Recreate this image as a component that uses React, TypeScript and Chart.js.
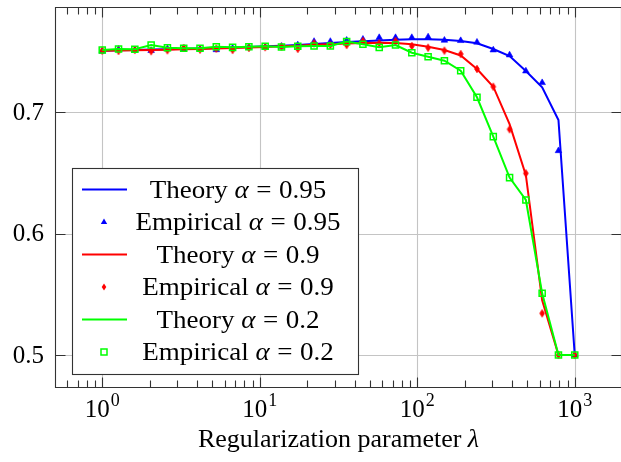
import { useEffect, useRef } from "react";
import { Chart, registerables } from "chart.js";

Chart.register(...registerables);

// ---- data ----
const lambdas = [
  1, 1.269, 1.6103, 2.0434, 2.5929, 3.2903, 4.1753, 5.2983, 6.7234, 8.5317,
  10.826, 13.738, 17.433, 22.122, 28.072, 35.622, 45.204, 57.362, 72.79, 92.367,
  117.21, 148.74, 188.74, 239.5, 303.92, 385.66, 489.39, 621.02, 788.05, 1000,
];

const theory095 = [
  0.7505, 0.7508, 0.7511, 0.7514, 0.7517, 0.752, 0.7523, 0.7527, 0.7531, 0.7535,
  0.754, 0.7546, 0.7552, 0.756, 0.7567, 0.7575, 0.7582, 0.7589, 0.7594, 0.7598,
  0.7598, 0.7594, 0.7585, 0.7565, 0.7518, 0.746, 0.7337, 0.7203, 0.6934, 0.5,
];
const empirical095 = [
  0.75, 0.7515, 0.751, 0.7505, 0.752, 0.7518, 0.752, 0.7512, 0.7525, 0.7535,
  0.7535, 0.754, 0.7552, 0.758, 0.758, 0.759, 0.7598, 0.7612, 0.7612, 0.7612,
  0.7617, 0.759, 0.7587, 0.7574, 0.751, 0.7469, 0.7337, 0.7241, 0.6681, 0.5,
];
const theory09 = [
  0.7505, 0.7507, 0.7509, 0.7511, 0.7513, 0.7516, 0.7519, 0.7522, 0.7526, 0.753,
  0.7535, 0.754, 0.7546, 0.7553, 0.7558, 0.7563, 0.7567, 0.7569, 0.7568, 0.7558,
  0.7537, 0.751, 0.7465, 0.7354, 0.7208, 0.69, 0.648, 0.545, 0.5, 0.5,
];
const empirical09 = [
  0.7505, 0.7502, 0.751, 0.75, 0.7508, 0.7527, 0.7513, 0.7521, 0.751, 0.7527,
  0.7533, 0.7537, 0.7519, 0.7565, 0.7551, 0.7551, 0.7584, 0.7565, 0.7584, 0.7543,
  0.7529, 0.7505, 0.7477, 0.7354, 0.7208, 0.6858, 0.6495, 0.5343, 0.5, 0.5,
];
const theory02 = [
  0.751, 0.7519, 0.7516, 0.7551, 0.7529, 0.7524, 0.7524, 0.7537, 0.7532, 0.7537,
  0.7541, 0.7535, 0.7541, 0.7543, 0.7543, 0.7579, 0.7557, 0.7532, 0.7551, 0.7488,
  0.7455, 0.7422, 0.734, 0.7121, 0.6797, 0.646, 0.6276, 0.5508, 0.5, 0.5,
];
const empirical02 = [
  0.751, 0.7519, 0.7516, 0.7551, 0.7529, 0.7524, 0.7524, 0.7537, 0.7532, 0.7537,
  0.7541, 0.7535, 0.7541, 0.7543, 0.7543, 0.7579, 0.7557, 0.7532, 0.7551, 0.7488,
  0.7455, 0.7422, 0.734, 0.7121, 0.6797, 0.646, 0.6276, 0.5508, 0.5, 0.5,
];

const xTickExponents = [0, 1, 2, 3];
const yTicks = [0.5, 0.6, 0.7];
const yTickLabels = ["0.5", "0.6", "0.7"];
const xTitle = "Regularization parameter ";
const xTitleSymbol = "λ";
const legendKinds = ["Theory", "Empirical", "Theory", "Empirical", "Theory", "Empirical"];
const legendAlphas = ["0.95", "0.95", "0.9", "0.9", "0.2", "0.2"];

const X_MIN = 0.50119;
const X_MAX = 1995.3;
const Y_MIN = 0.4737;
const Y_MAX = 0.7864;

const BLUE = "#0000ff";
const RED = "#ff0000";
const GREEN = "#00ff00";
const SERIF = '"Liberation Serif", "Times New Roman", serif';

const pts = (ys: number[]) => ys.map((y, i) => ({ x: lambdas[i], y }));

// parts: [text, italic, extra gap before (em)]
function drawMixed(
  ctx: CanvasRenderingContext2D,
  parts: [string, boolean, number][],
  cx: number,
  baseline: number,
  size: number,
  sx = 1
) {
  const fonts = parts.map(([, it]) => `${it ? "italic " : ""}${size}px ${SERIF}`);
  const widths = parts.map(([t, , g], i) => {
    ctx.font = fonts[i];
    return ctx.measureText(t).width + g * size;
  });
  const total = widths.reduce((a, b) => a + b, 0);
  ctx.save();
  ctx.translate(cx, baseline);
  ctx.scale(sx, 1);
  let x = -total / 2;
  ctx.textAlign = "left";
  ctx.textBaseline = "alphabetic";
  parts.forEach(([t, , g], i) => {
    ctx.font = fonts[i];
    ctx.fillText(t, x + g * size, 0);
    x += widths[i];
  });
  ctx.restore();
}

function makeDiamond(): HTMLCanvasElement {
  const c = document.createElement("canvas");
  c.width = 8;
  c.height = 10;
  const d = c.getContext("2d")!;
  d.fillStyle = RED;
  d.strokeStyle = RED;
  d.lineWidth = 0.8;
  d.beginPath();
  d.moveTo(4, 1.3);
  d.lineTo(6.4, 5);
  d.lineTo(4, 8.7);
  d.lineTo(1.6, 5);
  d.closePath();
  d.fill();
  d.stroke();
  return c;
}

const axesPlugin = {
  id: "pgfAxes",
  beforeDatasetsDraw(chart: any) {
    const { ctx, chartArea: a, scales } = chart;
    const x = scales.x;
    const y = scales.y;
    ctx.save();
    ctx.strokeStyle = "#c4c4c4";
    ctx.lineWidth = 1.1;
    xTickExponents.forEach((e) => {
      const px = Math.round(x.getPixelForValue(Math.pow(10, e))) + 0.5;
      ctx.beginPath();
      ctx.moveTo(px, a.top);
      ctx.lineTo(px, a.bottom);
      ctx.stroke();
    });
    yTicks.forEach((v) => {
      const py = Math.round(y.getPixelForValue(v)) + 0.5;
      ctx.beginPath();
      ctx.moveTo(a.left, py);
      ctx.lineTo(a.right, py);
      ctx.stroke();
    });
    ctx.restore();
  },
  afterDatasetsDraw(chart: any) {
    const { ctx, chartArea: a, scales } = chart;
    const x = scales.x;
    const y = scales.y;
    const L = Math.round(a.left) + 0.5;
    const R = Math.round(a.right) - 0.5;
    const T = Math.round(a.top) + 0.5;
    const B = Math.round(a.bottom) + 0.5;
    ctx.save();
    ctx.strokeStyle = "#333333";
    ctx.lineWidth = 1.1;
    ctx.beginPath();
    ctx.rect(L, T, R - L, B - T);
    ctx.stroke();

    // x ticks (major + minor, bottom and top, inward)
    for (let d = -1; d <= 3; d++) {
      for (let m = 1; m <= 9; m++) {
        const v = m * Math.pow(10, d);
        if (v < X_MIN || v > X_MAX) continue;
        const px = Math.round(x.getPixelForValue(v)) + 0.5;
        const len = m === 1 ? 10 : 7;
        ctx.beginPath();
        ctx.moveTo(px, B);
        ctx.lineTo(px, B - len);
        ctx.moveTo(px, T);
        ctx.lineTo(px, T + len);
        ctx.stroke();
      }
    }
    // y ticks (left and right, inward)
    yTicks.forEach((v) => {
      const py = Math.round(y.getPixelForValue(v)) + 0.5;
      ctx.beginPath();
      ctx.moveTo(L, py);
      ctx.lineTo(L + 10, py);
      ctx.moveTo(R, py);
      ctx.lineTo(R - 10, py);
      ctx.stroke();
    });

    // y tick labels
    ctx.fillStyle = "#000";
    ctx.font = `25px ${SERIF}`;
    ctx.textAlign = "right";
    ctx.textBaseline = "middle";
    yTicks.forEach((v, i) => {
      ctx.fillText(yTickLabels[i], a.left - 11, y.getPixelForValue(v) + 1);
    });

    // x tick labels 10^e
    xTickExponents.forEach((e) => {
      const px = x.getPixelForValue(Math.pow(10, e));
      ctx.font = `25px ${SERIF}`;
      const w1 = ctx.measureText("10").width;
      ctx.font = `18px ${SERIF}`;
      const w2 = ctx.measureText(String(e)).width;
      const start = px - (w1 + w2 + 1) / 2;
      ctx.textAlign = "left";
      ctx.textBaseline = "alphabetic";
      ctx.font = `25px ${SERIF}`;
      ctx.fillText("10", start, a.bottom + 30);
      ctx.font = `18px ${SERIF}`;
      ctx.fillText(String(e), start + w1 + 1, a.bottom + 19);
    });

    // x title
    drawMixed(
      ctx,
      [
        [xTitle, false, 0],
        [xTitleSymbol, true, 0],
      ],
      (a.left + a.right) / 2,
      a.bottom + 60,
      26
    );

    // legend
    const lx = 72.5;
    const ly = 168.5;
    const lw = 286;
    const lh = 206;
    ctx.fillStyle = "#fff";
    ctx.fillRect(lx, ly, lw, lh);
    ctx.strokeStyle = "#333333";
    ctx.lineWidth = 1.1;
    ctx.strokeRect(lx, ly, lw, lh);
    const colors = [BLUE, BLUE, RED, RED, GREEN, GREEN];
    for (let i = 0; i < 6; i++) {
      const cy = 189.5 + i * 32.5;
      const c = colors[i];
      if (i % 2 === 0) {
        ctx.strokeStyle = c;
        ctx.lineWidth = 2;
        ctx.beginPath();
        ctx.moveTo(82, cy);
        ctx.lineTo(127, cy);
        ctx.stroke();
      } else if (i === 1) {
        ctx.fillStyle = c;
        ctx.beginPath();
        ctx.moveTo(104, cy - 3.6);
        ctx.lineTo(107.2, cy + 2);
        ctx.lineTo(100.8, cy + 2);
        ctx.closePath();
        ctx.fill();
      } else if (i === 3) {
        ctx.fillStyle = c;
        ctx.beginPath();
        ctx.moveTo(104, cy - 3.5);
        ctx.lineTo(106.3, cy);
        ctx.lineTo(104, cy + 3.5);
        ctx.lineTo(101.7, cy);
        ctx.closePath();
        ctx.fill();
      } else {
        ctx.strokeStyle = c;
        ctx.lineWidth = 1.5;
        ctx.strokeRect(101, cy - 3, 6, 6);
      }
      ctx.fillStyle = "#000";
      drawMixed(
        ctx,
        [
          [legendKinds[i] + " ", false, 0],
          ["α", true, 0],
          ["=", false, 0.28],
          [legendAlphas[i], false, 0.28],
        ],
        238,
        cy + 8,
        25.5,
        1.06
      );
    }
    ctx.restore();
  },
};

export default function App() {
  const ref = useRef<HTMLCanvasElement>(null);
  useEffect(() => {
    const canvas = ref.current!;
    const diamond = makeDiamond();
    const chart = new Chart(canvas, {
      type: "scatter",
      data: {
        datasets: [
          {
            label: "Theory α = 0.95",
            data: pts(theory095),
            showLine: true,
            borderColor: BLUE,
            borderWidth: 2,
            pointRadius: 0,
            tension: 0,
            order: 5,
          },
          {
            label: "Empirical α = 0.95",
            data: pts(empirical095),
            showLine: false,
            pointStyle: "triangle",
            pointRadius: 3.8,
            backgroundColor: BLUE,
            borderColor: BLUE,
            borderWidth: 0.6,
            order: 4,
          },
          {
            label: "Theory α = 0.9",
            data: pts(theory09),
            showLine: true,
            borderColor: RED,
            borderWidth: 2,
            pointRadius: 0,
            tension: 0,
            order: 3,
          },
          {
            label: "Empirical α = 0.9",
            data: pts(empirical09),
            showLine: false,
            pointStyle: diamond,
            pointRadius: 4,
            backgroundColor: RED,
            borderColor: RED,
            order: 2,
          },
          {
            label: "Theory α = 0.2",
            data: pts(theory02),
            showLine: true,
            borderColor: GREEN,
            borderWidth: 2,
            pointRadius: 0,
            tension: 0,
            order: 1,
          },
          {
            label: "Empirical α = 0.2",
            data: pts(empirical02),
            showLine: false,
            pointStyle: "rect",
            pointRadius: 4.3,
            backgroundColor: "rgba(0,0,0,0)",
            borderColor: GREEN,
            borderWidth: 1.5,
            order: 0,
          },
        ],
      },
      options: {
        animation: false,
        responsive: false,
        events: [],
        layout: { autoPadding: false, padding: { left: 55, right: 6, top: 7, bottom: 75 } },
        scales: {
          x: { type: "logarithmic", min: X_MIN, max: X_MAX, display: false },
          y: { type: "linear", min: Y_MIN, max: Y_MAX, display: false },
        },
        plugins: { legend: { display: false }, tooltip: { enabled: false } },
      },
      plugins: [axesPlugin],
    } as any);
    return () => chart.destroy();
  }, []);
  return (
    <div
      style={{
        position: "absolute",
        left: 0,
        top: 0,
        width: 621,
        height: 462,
        overflow: "hidden",
        background: "#fff",
      }}
    >
      <canvas ref={ref} width={628} height={462} style={{ display: "block" }} />
    </div>
  );
}
